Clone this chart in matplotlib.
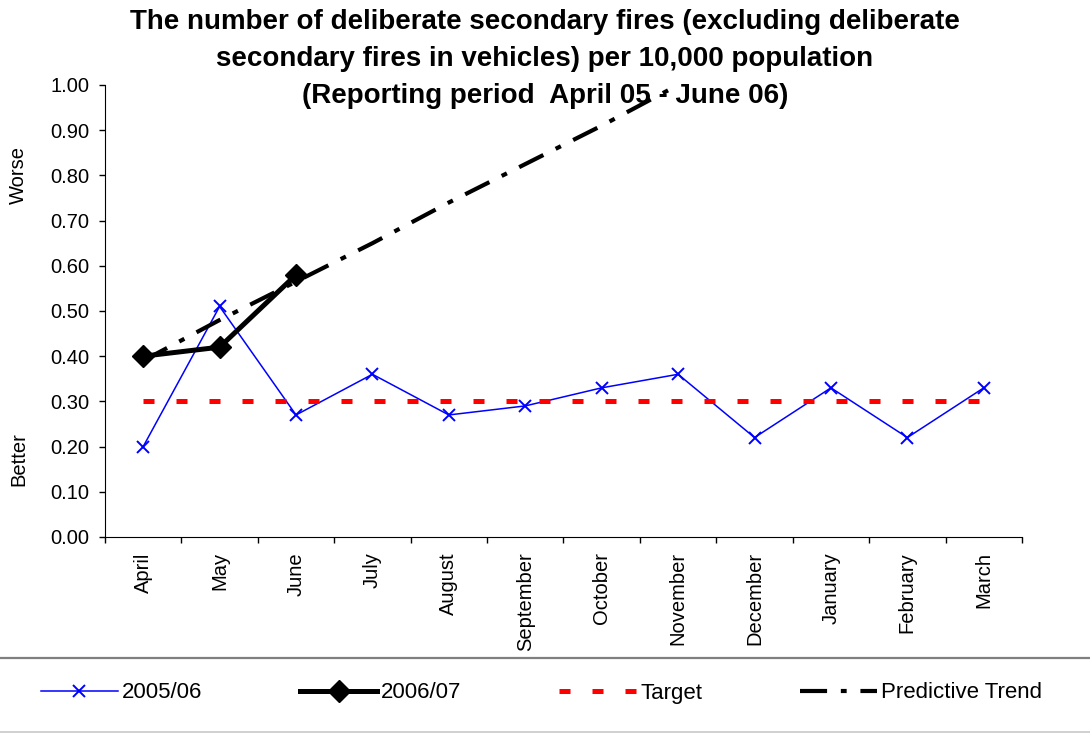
import matplotlib
matplotlib.use('Agg')
import matplotlib.pyplot as plt
from matplotlib.lines import Line2D
from matplotlib.ticker import FixedLocator

plt.rcParams['font.family'] = ['Liberation Sans', 'DejaVu Sans']

months = ['April', 'May', 'June', 'July', 'August', 'September', 'October',
          'November', 'December', 'January', 'February', 'March']
fy_2005 = [0.20, 0.51, 0.27, 0.36, 0.27, 0.29, 0.33, 0.36, 0.22, 0.33, 0.22, 0.33]
fy_2006 = [0.40, 0.42, 0.58]
target = [0.30] * 12
trend = [0.39, 0.48, 0.565, 0.65, 0.74, 0.825, 0.91, 1.00]
yticks = [0.0, 0.1, 0.2, 0.3, 0.4, 0.5, 0.6, 0.7, 0.8, 0.9, 1.0]

fig = plt.figure(figsize=(10.9, 7.34), dpi=100)
ax = fig.add_axes([0.0963, 0.2684, 0.8413, 0.6158])

x = list(range(len(months)))
ax.plot(x, fy_2005, color='#0000FF', lw=1.1, marker='x', ms=9, mew=1.4,
        label='2005/06')
ax.plot(x[:len(fy_2006)], fy_2006, color='black', lw=3.6, marker='D', ms=11,
        label='2006/07')
ax.plot(x, target, color='#FF0000', lw=3.6, ls=(0, (2.2, 4.4)), label='Target')
ax.plot(x[:len(trend)], trend, color='black', lw=3.0,
        ls=(0, (6.5, 3.3, 1.4, 3.3)), label='Predictive Trend')

ax.set_xlim(-0.5, len(months) - 0.5)
ax.set_ylim(0, 1.0)
ax.set_yticks(yticks)
ax.set_yticklabels([f'{v:.2f}' for v in yticks], fontsize=14.5)
ax.set_xticks(x)
ax.set_xticklabels(months, rotation=90, fontsize=14.5, va='top')
ax.xaxis.set_minor_locator(FixedLocator([i - 0.5 for i in range(len(months) + 1)]))
ax.tick_params(axis='x', which='major', length=0, pad=11)
ax.tick_params(axis='x', which='minor', length=4, width=1)
ax.tick_params(axis='y', length=4, width=1, pad=7)
for s in ['top', 'right']:
    ax.spines[s].set_visible(False)

fig.text(0.017, 0.762, 'Worse', rotation=90, ha='center', va='center', fontsize=14.5)
fig.text(0.017, 0.375, 'Better', rotation=90, ha='center', va='center', fontsize=14.5)

fig.suptitle('The number of deliberate secondary fires (excluding deliberate\n'
             'secondary fires in vehicles) per 10,000 population\n'
             '(Reporting period  April 05 - June 06)',
             x=0.5, y=0.988, fontsize=20, fontweight='bold', linespacing=1.56)

fig.add_artist(Line2D([0, 1], [1 - 658 / 734] * 2, color='#7f7f7f', lw=1.6))
fig.add_artist(Line2D([0, 1], [1 - 732 / 734] * 2, color='#d0d0d0', lw=1.4))

fig.legend(loc='center', bbox_to_anchor=(0.497, 1 - 693 / 734), ncol=4,
           frameon=False, fontsize=16, handlelength=3.45, handletextpad=0.2,
           columnspacing=4.4)

fig.savefig('out.png', dpi=100)
